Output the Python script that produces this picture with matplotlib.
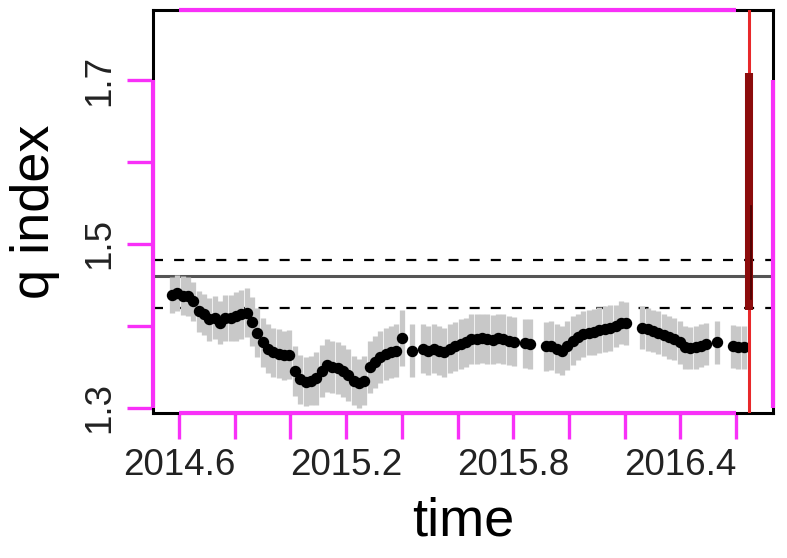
import numpy as np
import pandas as pd
import matplotlib
matplotlib.use("Agg")
import matplotlib.pyplot as plt

plt.rcParams['font.family'] = ['Liberation Sans', 'DejaVu Sans']

# weekly q-index estimates (nan = missing week)
nan = np.nan
q = [1.438, 1.440, 1.437, 1.436, 1.430, 1.418, 1.414, 1.408, 1.410, 1.404,
     1.410, 1.410, 1.412, 1.414, 1.416, 1.405, 1.392, 1.380, 1.372, 1.368,
     1.366, 1.364, 1.365, 1.345, 1.335, 1.332, 1.333, 1.336, 1.345, 1.352,
     1.350, 1.349, 1.345, 1.340, 1.333, 1.330, 1.333, 1.350, 1.356, 1.362,
     1.366, 1.368, 1.370, 1.385, nan, 1.370, nan, 1.372, 1.370, 1.372,
     1.370, 1.368, 1.372, 1.375, 1.378, 1.380, 1.384, 1.384, 1.385, 1.384,
     1.383, 1.385, 1.384, 1.382, 1.381, nan, 1.379, 1.378, nan, nan,
     1.375, 1.376, 1.372, 1.370, 1.376, 1.382, 1.386, 1.390, 1.392, 1.393,
     1.395, 1.396, 1.398, 1.400, 1.404, 1.403, nan, nan, 1.398, 1.396,
     1.394, 1.392, 1.389, 1.386, 1.384, 1.380, 1.374, 1.373, 1.374, 1.376,
     1.378, nan, 1.380, nan, nan, 1.375, 1.374, 1.374]
err = [0.022, 0.022, 0.024, 0.024, 0.024, 0.025, 0.025, 0.026, 0.026, 0.026,
       0.028, 0.028, 0.030, 0.030, 0.030, 0.030, 0.030, 0.030, 0.030, 0.030,
       0.030, 0.030, 0.030, 0.030, 0.030, 0.030, 0.030, 0.032, 0.032, 0.032,
       0.032, 0.032, 0.032, 0.032, 0.030, 0.030, 0.030, 0.032, 0.032, 0.032,
       0.032, 0.032, 0.032, 0.034, 0.030, 0.032, 0.030, 0.030, 0.030, 0.030,
       0.030, 0.030, 0.030, 0.030, 0.030, 0.030, 0.030, 0.030, 0.030, 0.030,
       0.030, 0.030, 0.030, 0.030, 0.030, 0.030, 0.030, 0.030, 0.030, 0.030,
       0.030, 0.030, 0.030, 0.030, 0.030, 0.030, 0.028, 0.028, 0.028, 0.028,
       0.028, 0.028, 0.028, 0.026, 0.026, 0.026, 0.026, 0.026, 0.026, 0.026,
       0.026, 0.026, 0.026, 0.026, 0.026, 0.026, 0.026, 0.026, 0.026, 0.026,
       0.026, 0.026, 0.026, 0.026, 0.026, 0.026, 0.026, 0.026]

dates = pd.date_range('2014-07-30', periods=len(q), freq='7D')
t = np.array(dates.year + (dates.dayofyear - 1) / 365.25)
q = np.array(q)
err = np.array(err)

q_mean = 1.4612
q_band = [1.4224, 1.4806]
t_now = 2016.647
pred_ci = [1.4195, 1.709]
pred_ci_inner = [1.433, 1.546]

xticks = [2014.6, 2014.8, 2015.0, 2015.2, 2015.4, 2015.6, 2015.8, 2016.0, 2016.2, 2016.4, 2016.6]
xlabels = ['2014.6', '2015.2', '2015.8', '2016.4']
yticks = [1.3, 1.4, 1.5, 1.6, 1.7]
ylabels = ['1.3', '1.5', '1.7']

mag = '#f830f8'
xlim = (2014.5066, 2016.7329)
ylim = (1.2939, 1.7854)

fig = plt.figure(figsize=(7.87, 5.58), dpi=100)
ax = fig.add_axes([0.1944, 0.260, 0.788, 0.722])
ax.set_xlim(*xlim)
ax.set_ylim(*ylim)

ok = ~np.isnan(q)
ax.vlines(t[ok], q[ok] - err[ok], q[ok] + err[ok], color='#c8c8c8', lw=3.8, zorder=2)
ax.plot(t[ok], q[ok], 'o', color='black', ms=7.2, mec='black', zorder=3)

ax.axhline(q_mean, color='#555555', lw=2.2, zorder=1)
for yb in q_band:
    ax.axhline(yb, color='black', lw=1.6, dashes=(4.5, 5), zorder=1)

ax.axvline(t_now, color='#e8282a', lw=2.2, zorder=4)
ax.plot([t_now, t_now], pred_ci, color='#8c0c0c', lw=5.8, solid_capstyle='butt', zorder=5)
ax.plot([t_now + 0.008, t_now + 0.008], pred_ci_inner, color='#4a0000', lw=1.2, zorder=6)

for s in ax.spines.values():
    s.set_color('black')
    s.set_linewidth(2.2)

# R-style axis lines drawn from first to last tick
kw = dict(color=mag, lw=3, clip_on=False, zorder=10, solid_capstyle='butt')
ax.plot([xticks[0], xticks[-1]], [ylim[0], ylim[0]], **kw)
ax.plot([xticks[0], xticks[-1]], [ylim[1], ylim[1]], **kw)
ax.plot([xlim[0], xlim[0]], [yticks[0], yticks[-1]], **kw)
ax.plot([xlim[1], xlim[1]], [yticks[0], yticks[-1]], **kw)

ax.set_xticks([float(v) for v in xlabels])
ax.set_xticklabels(xlabels)
ax.set_xticks([v for v in xticks if f'{v:.1f}' not in xlabels], minor=True)
ax.set_yticks([float(v) for v in ylabels])
ax.set_yticklabels(ylabels, rotation=90, va='center')
ax.set_yticks([v for v in yticks if f'{v:.1f}' not in ylabels], minor=True)
ax.tick_params(which='both', direction='out', length=19, width=2.4, color=mag,
               labelsize=26.5, labelcolor='#222222')
ax.tick_params(axis='x', which='both', pad=6)
ax.tick_params(axis='y', which='both', pad=7)

ax.set_xlabel('time', fontsize=39, labelpad=10)
ax.set_ylabel('q index', fontsize=39, labelpad=16)

fig.savefig('out.png', dpi=100)
